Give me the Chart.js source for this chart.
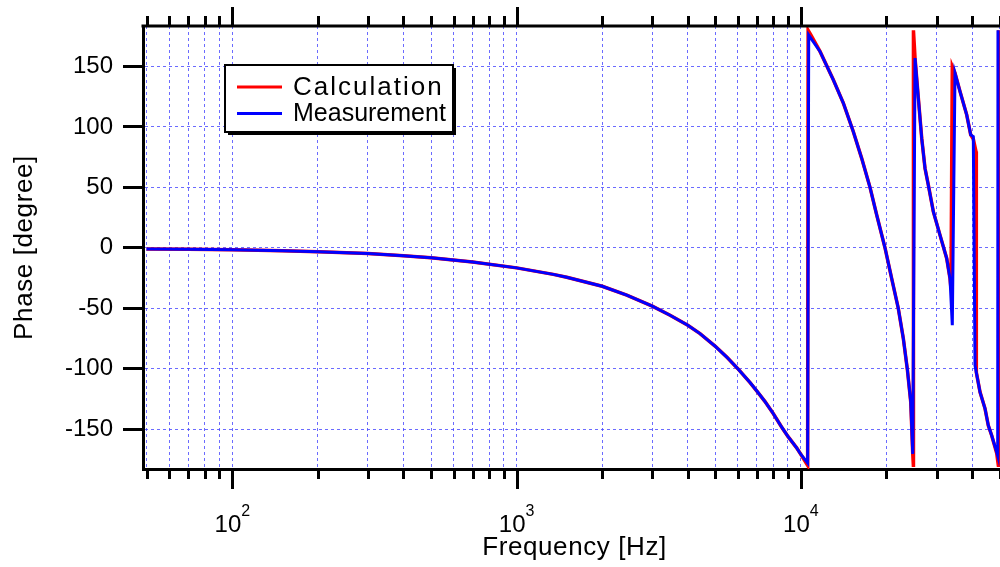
<!DOCTYPE html>
<html>
<head>
<meta charset="utf-8">
<script src="https://cdn.jsdelivr.net/npm/chart.js@4.4.1/dist/chart.umd.min.js"></script>
<style>
  html, body { margin: 0; padding: 0; background: #fff; }
</style>
</head>
<body>
<canvas id="phaseChart" width="1000" height="567"></canvas>
<script>
// values (frequency in Hz, phase in degrees)
const seriesNames = ['Calculation', 'Measurement'];

const calcFreq = [50, 70, 100, 150, 200, 300, 400, 500, 700, 1000, 1346, 1500, 2000, 2440, 3000,
  3465, 4000, 4417, 5000, 5483, 6000, 6623, 7000, 7478, 8000, 8561, 9000, 9660, 10000, 10560,
  10600, 10850, 11670, 13000, 14100, 15290, 16360, 17500, 18480, 19760, 20860, 22000, 22920,
  23680, 24340, 24740, 24860, 24880, 25200, 25880, 26600, 27320, 28060, 29230, 30850, 32570,
  33450, 33720, 34080, 34830, 36270, 38300, 39560, 40400, 41300, 41400, 42660, 44420, 45620,
  46890, 48830, 49470, 49600];
const calcPhase = [-0.9, -1.2, -1.7, -2.5, -3.3, -4.7, -6.5, -8.3, -11.8, -16.6, -22.0, -24.4, -31.8,
  -39.2, -48.3, -55.8, -64.1, -71, -81.5, -90.4, -100, -111.5, -118.5, -127.2, -137.3, -148.4,
  -156, -165.5, -171, -180, 180, 176, 162.5, 139, 119.7, 96, 74, 50, 27, 0, -25.4, -50, -75,
  -100.6, -127.7, -170.5, -180, 180, 157, 124, 90.7, 65.8, 52, 29.9, 10.5, -8.8,
  -25.4, -33.7, 150, 144.6, 129.4, 110, 93.4, 90, 79.6, -103, -119.4, -133, -147,
  -155.3, -170, -180, 180];

const measFreq = [50, 70, 100, 150, 200, 300, 400, 500, 700, 1000, 1346, 1500, 2000, 2440, 3000,
  3465, 4000, 4417, 5000, 5483, 6000, 6623, 7000, 7478, 8000, 8561, 9000, 9660, 10000, 10560,
  10650, 11670, 13000, 14100, 15290, 16360, 17500, 18480, 19760, 20860, 22000, 22920,
  23680, 24340, 24740, 25200, 25880, 26600, 27320, 28060, 29230, 30850, 32570,
  33450, 34080, 34830, 36270, 38300, 39560, 40400, 40960, 42660, 44420, 45620,
  46890, 48830, 49230, 49350];
const measPhase = [-0.9, -1.2, -1.7, -2.5, -3.3, -4.7, -6.5, -8.3, -11.8, -16.6, -22.0, -24.4, -31.8,
  -39.2, -48.3, -55.8, -64.1, -71, -81.5, -90.4, -100, -111.5, -118.5, -127.2, -137.3, -148.4,
  -156, -165.5, -171, -178, 176, 162.5, 139, 119.7, 96, 74, 50, 27, 0, -25.4, -50, -75,
  -100.6, -127.7, -170.5, 157, 124, 90.7, 65.8, 52, 29.9, 10.5, -8.8,
  -25.4, -64, 144.6, 129.4, 110, 93.4, 92, -97.3, -119.4, -133, -147,
  -155.3, -169, -172, 180];

const yTicks = [-150, -100, -50, 0, 50, 100, 150];
const xDecades = [100, 1000, 10000];
const xDecadeExp = ['2', '3', '4'];

const xMin = 48.5, xMax = 50150;
const seriesColors = ['#ff0000', '#0000ff'];
const gridBlue = 'rgba(70, 70, 255, 0.8)';
const fontFamily = "'Liberation Sans', Arial, sans-serif";

// grid / minor tick positions: 1..9 times each power of ten inside the range
const xGrid = [];
[10, 100, 1000, 10000].forEach(d => {
  for (let m = 1; m <= 9; m++) {
    const v = d * m;
    if (v >= xMin && v <= xMax) xGrid.push(v);
  }
});

const toPoints = (xs, ys) => xs.map((f, i) => ({ x: f, y: ys[i] }));

const axisDecor = {
  id: 'axisDecor',
  afterDraw(chart) {
    const { ctx, chartArea: a, scales: { x } } = chart;
    ctx.save();
    ctx.strokeStyle = '#000';
    ctx.lineWidth = 3;
    ctx.setLineDash([]);

    // top frame line
    ctx.beginPath();
    ctx.moveTo(a.left - 1.5, a.top);
    ctx.lineTo(a.right, a.top);
    ctx.stroke();

    // x tick marks on bottom (down) and top (up)
    xGrid.forEach(v => {
      const px = Math.round(x.getPixelForValue(v)) + 0.5;
      const major = xDecades.includes(v);
      ctx.beginPath();
      ctx.moveTo(px, a.bottom);
      ctx.lineTo(px, a.bottom + (major ? 20 : 10));
      ctx.moveTo(px, a.top);
      ctx.lineTo(px, a.top - (major ? 19 : 10));
      ctx.stroke();
    });

    // decade labels 10^n
    ctx.fillStyle = '#000';
    ctx.textBaseline = 'alphabetic';
    ctx.textAlign = 'left';
    xDecades.forEach((v, i) => {
      const px = x.getPixelForValue(v);
      ctx.font = '24px ' + fontFamily;
      const wBase = ctx.measureText('10').width;
      ctx.font = '16px ' + fontFamily;
      const wExp = ctx.measureText(xDecadeExp[i]).width;
      const start = px - (wBase + wExp) / 2;
      ctx.font = '24px ' + fontFamily;
      ctx.fillText('10', start, 532);
      ctx.font = '16px ' + fontFamily;
      ctx.fillText(xDecadeExp[i], start + wBase, 516);
    });

    // axis titles
    ctx.font = '26px ' + fontFamily;
    ctx.letterSpacing = '0.6px';
    ctx.textAlign = 'center';
    ctx.fillText('Frequency [Hz]', (a.left + a.right) / 2 + 3, 555);
    ctx.save();
    ctx.translate(32, (a.top + a.bottom) / 2);
    ctx.rotate(-Math.PI / 2);
    ctx.fillText('Phase [degree]', 0, 0);
    ctx.restore();
    ctx.letterSpacing = '0px';

    // legend box with drop shadow
    const bx = 225, by = 65, bw = 228, bh = 67;
    ctx.fillStyle = '#000';
    ctx.fillRect(bx + 3, by + 3, bw, bh);
    ctx.fillStyle = '#fff';
    ctx.fillRect(bx, by, bw, bh);
    ctx.lineWidth = 2;
    ctx.strokeRect(bx, by, bw, bh);

    const rows = [
      { y: 87, base: 95, size: 26, spacing: '2px' },
      { y: 113.5, base: 121, size: 25, spacing: '0px' }
    ];
    rows.forEach((r, i) => {
      ctx.strokeStyle = seriesColors[i];
      ctx.lineWidth = 3;
      ctx.beginPath();
      ctx.moveTo(237, r.y);
      ctx.lineTo(282, r.y);
      ctx.stroke();
      ctx.fillStyle = '#000';
      ctx.textAlign = 'left';
      ctx.font = r.size + 'px ' + fontFamily;
      ctx.letterSpacing = r.spacing;
      ctx.fillText(seriesNames[i], 293, r.base);
    });
    ctx.letterSpacing = '0px';
    ctx.restore();
  }
};

const ctx = document.getElementById('phaseChart').getContext('2d');
new Chart(ctx, {
  type: 'line',
  data: {
    datasets: [{
      label: seriesNames[0],
      data: toPoints(calcFreq, calcPhase),
      borderColor: seriesColors[0],
      borderWidth: 3.5,
      pointRadius: 0,
      tension: 0,
      order: 2
    }, {
      label: seriesNames[1],
      data: toPoints(measFreq, measPhase),
      borderColor: seriesColors[1],
      borderWidth: 3,
      pointRadius: 0,
      tension: 0,
      order: 1
    }]
  },
  options: {
    responsive: false,
    animation: false,
    devicePixelRatio: 1,
    layout: { padding: { top: 26, left: 0, right: 0, bottom: 0 } },
    plugins: {
      legend: { display: false },
      tooltip: { enabled: false }
    },
    scales: {
      x: {
        type: 'logarithmic',
        position: 'bottom',
        min: xMin,
        max: xMax,
        afterBuildTicks: s => { s.ticks = xGrid.map(v => ({ value: v })); },
        afterFit: s => { s.height = 98; },
        ticks: { display: false },
        grid: { color: gridBlue, lineWidth: 1, drawTicks: false },
        border: { color: '#000', width: 3, dash: [3, 3] }
      },
      y: {
        min: -183,
        max: 183.5,
        afterBuildTicks: s => { s.ticks = yTicks.map(v => ({ value: v })); },
        afterFit: s => { s.width = 143; },
        ticks: {
          color: '#000',
          autoSkip: false,
          padding: 10,
          font: { family: fontFamily, size: 24 }
        },
        grid: {
          color: gridBlue,
          lineWidth: 1,
          tickLength: 20,
          tickColor: '#000',
          tickWidth: 3,
          tickBorderDash: []
        },
        border: { color: '#000', width: 3, dash: [3, 3] }
      }
    }
  },
  plugins: [axisDecor]
});
</script>
</body>
</html>
